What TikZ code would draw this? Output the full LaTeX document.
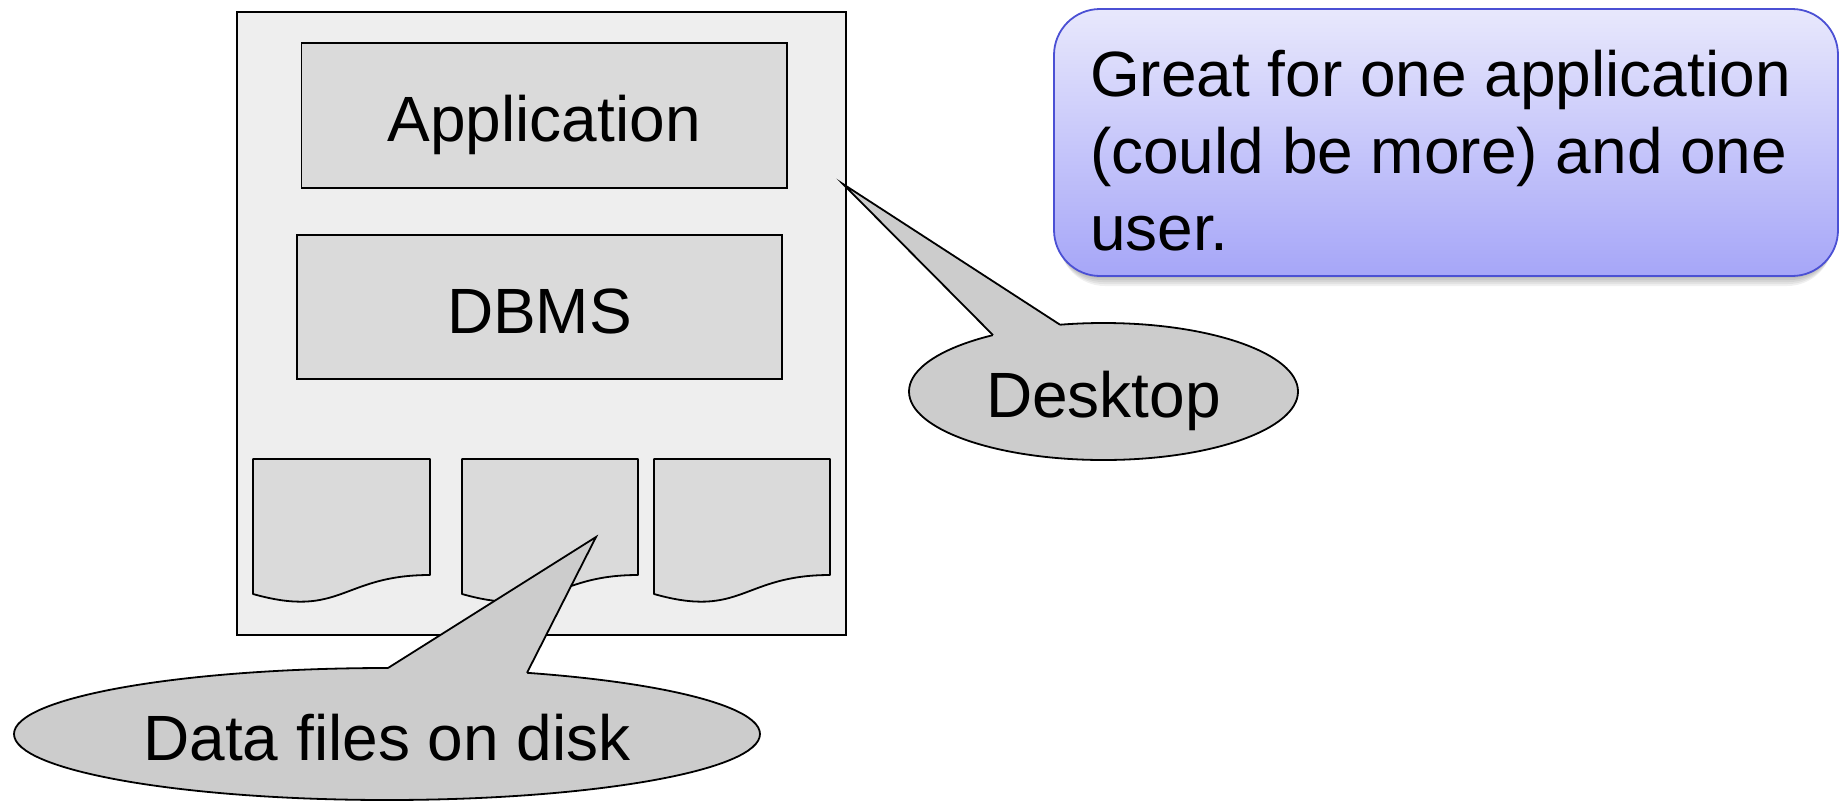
\documentclass[tikz,border=0pt]{standalone}
\usepackage{fontspec}
\setmainfont{Liberation Sans}
\usetikzlibrary{shapes.geometric,calc}
\definecolor{outerfill}{HTML}{EEEEEE}
\definecolor{boxfill}{HTML}{DADADA}
\definecolor{calloutfill}{HTML}{CCCCCC}
\definecolor{noteborder}{HTML}{4B50D4}
\definecolor{notetop}{HTML}{E8E8FC}
\definecolor{notebottom}{HTML}{A6A6F8}
\begin{document}
\begin{tikzpicture}[x=1pt,y=-1pt,
  every node/.style={inner sep=0pt, outer sep=0pt},
  txt/.style={font=\fontsize{64}{77}\selectfont},
  ln/.style={line width=1.8pt, draw=black},
  outerbox/.style={ln, fill=outerfill, rectangle},
  layerbox/.style={ln, fill=boxfill, rectangle, txt, text height=52pt, text depth=0pt},
  docstyle/.style={ln, fill=boxfill, line join=round},
  callout/.style={ln, fill=calloutfill, ellipse, txt, text height=52pt, text depth=0pt},
  pointerfill/.style={fill=calloutfill},
  softshadow/.style={fill=black, opacity=0.06},
  notebox/.style={rectangle, rounded corners=46pt, draw=noteborder, line width=1.8pt,
    top color=notetop, bottom color=notebottom}
]
\useasboundingbox (0,0) rectangle (1847,801);

% outer desktop box
\node[outerbox, minimum width=609pt, minimum height=623pt] (outer) at (541.5,323.5) {};
\node[layerbox, minimum width=485.5pt, minimum height=145pt] (app) at (544.25,115.5) {Application};
\node[layerbox, minimum width=485pt, minimum height=144pt] (dbms) at (539.5,307) {DBMS};

% data files (document shapes)
\foreach \l/\r in {253/430, 462/638, 654/830} {
  \pgfmathsetmacro\m{(\l+\r)/2}
  \draw[docstyle] (\l,459) -- (\r,459) -- (\r,575) .. controls (\m,575) and (\m,619) .. (\l,594) -- cycle;
}

% Desktop callout
\node[callout, minimum width=389pt, minimum height=137pt] (desk) at (1103.5,391.5) {Desktop};
\coordinate (deskTip) at (843,184);
\coordinate (deskB1) at (993,335.1);
\coordinate (deskB2) at (1060,324.7);
\fill[pointerfill] (deskB1) -- (deskTip) -- (deskB2) -- ($(deskB2)+(0,8)$) -- ($(deskB1)+(0,8)$) -- cycle;
\draw[ln] (deskB1) -- (deskTip) -- (deskB2);

% Data files callout
\node[callout, minimum width=746pt, minimum height=132pt] (data) at (387,734) {Data files on disk};
\coordinate (dataTip) at (596,537);
\coordinate (dataB1) at (388,668);
\coordinate (dataB2) at (527,672.8);
\fill[pointerfill] (dataB1) -- (dataTip) -- (dataB2) -- ($(dataB2)+(0,8)$) -- ($(dataB1)+(0,8)$) -- cycle;
\draw[ln] (dataB1) -- (dataTip) -- (dataB2);

% soft shadow of the note box
\foreach \s in {2,4,6,8,10} {
  \fill[softshadow, rounded corners=46pt] (1054+\s/2,9+\s) rectangle (1838-\s/2,276+\s);
}
% note box
\node[notebox, minimum width=784pt, minimum height=267pt] (note) at (1446,142.5) {};
\node[txt, anchor=north west, align=left] (notetext) at (1090,50.5) {Great for one application\\(could be more) and one\\user.};
\end{tikzpicture}
\end{document}
